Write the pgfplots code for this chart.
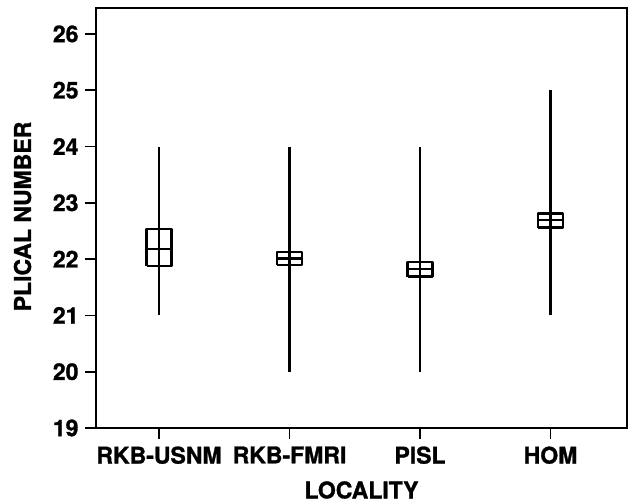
\documentclass[border=0pt]{standalone}
\usepackage{pgfplots}
\pgfplotsset{compat=1.18}
\usepackage{fontspec}
\setmainfont{TeX Gyre Heros}[BoldFeatures={FakeBold=1.2}]
\newcommand{\lbl}{\fontsize{23}{25}\selectfont\bfseries}
\begin{document}
\begin{tikzpicture}
\begin{axis}[
  scale only axis, width=531pt, height=420pt,
  xmin=-0.483, xmax=3.586, ymin=19, ymax=26.46,
  xtick={0,1,2,3}, xticklabels={RKB-USNM,RKB-FMRI,PISL,HOM},
  ytick={19,20,...,26},
  xtick pos=bottom, ytick pos=left,
  tick align=outside, major tick length=11pt,
  tick style={line width=1.6pt,black},
  axis line style={line width=2pt},
  /pgf/number format/assume math mode=true,
  tick label style={font=\lbl},
  xticklabel style={yshift=-4pt},
  yticklabel style={xshift=-3pt},
  label style={font=\lbl},
  xlabel={LOCALITY}, ylabel={PLICAL NUMBER},
  xlabel style={at={(axis description cs:0.5,-0.1476)}, anchor=center},
  ylabel style={at={(axis description cs:-0.1384,0.5036)}, anchor=center},
  myl/.style={black, solid, mark=none, line width=2.4pt, line join=round},
]
% range lines (min, max)
\addplot[myl] coordinates {(0,21) (0,24)};
\addplot[myl] coordinates {(1,20) (1,24)};
\addplot[myl] coordinates {(2,20) (2,24)};
\addplot[myl] coordinates {(3,21) (3,25)};
% boxes (lower, upper)
\addplot[myl] coordinates {(-0.096,21.88) (0.096,21.88) (0.096,22.53) (-0.096,22.53) (-0.096,21.88)};
\addplot[myl] coordinates {(0.904,21.90) (1.096,21.90) (1.096,22.13) (0.904,22.13) (0.904,21.90)};
\addplot[myl] coordinates {(1.904,21.69) (2.096,21.69) (2.096,21.95) (1.904,21.95) (1.904,21.69)};
\addplot[myl] coordinates {(2.904,22.56) (3.096,22.56) (3.096,22.81) (2.904,22.81) (2.904,22.56)};
% means
\addplot[myl] coordinates {(-0.096,22.18) (0.096,22.18)};
\addplot[myl] coordinates {(0.904,22.01) (1.096,22.01)};
\addplot[myl] coordinates {(1.904,21.82) (2.096,21.82)};
\addplot[myl] coordinates {(2.904,22.69) (3.096,22.69)};
\end{axis}
\pgfresetboundingbox
\path ([shift={(-96pt,-74pt)}]current axis.south west) rectangle ([shift={(1pt,8pt)}]current axis.north east);
\end{tikzpicture}
\end{document}
